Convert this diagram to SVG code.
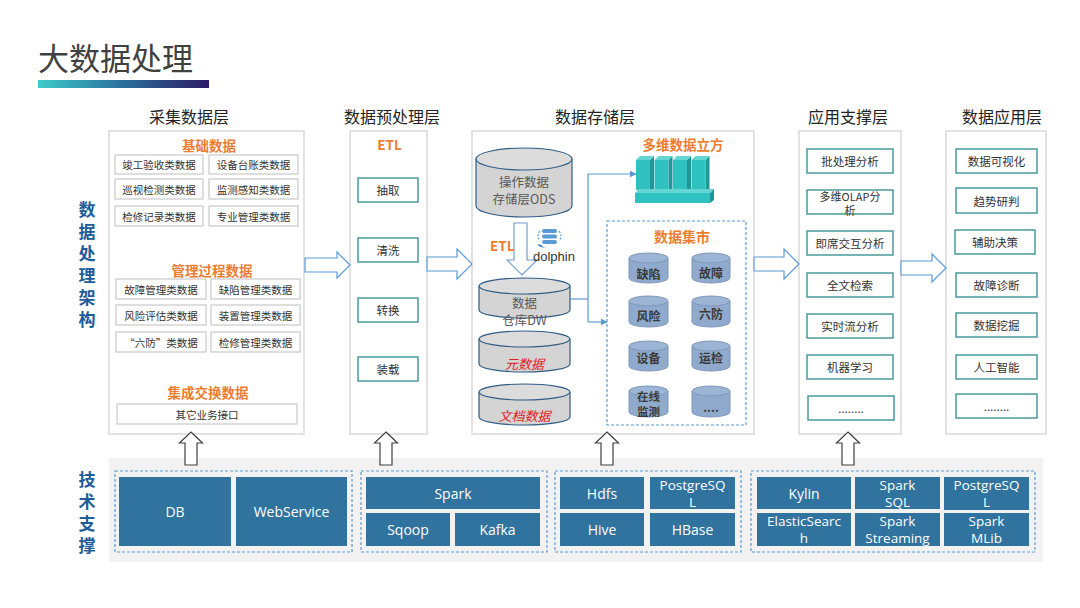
<svg xmlns="http://www.w3.org/2000/svg" width="1080" height="608" viewBox="0 0 1080 608">
<defs>
<linearGradient id="tg" x1="0" y1="0" x2="1" y2="0">
<stop offset="0" stop-color="#3ecbcb"/>
<stop offset="0.5" stop-color="#2a6f9a"/>
<stop offset="1" stop-color="#2d1a66"/>
</linearGradient>
<marker id="ah" viewBox="0 0 10 10" refX="9" refY="5" markerWidth="7" markerHeight="7" orient="auto" markerUnits="userSpaceOnUse">
<path d="M0,0 L10,5 L0,10 Z" fill="#5b9bd5"/>
</marker>
<style>
text{font-family:"Noto Sans CJK SC","Noto Sans",sans-serif;}
.c{text-anchor:middle;dominant-baseline:central;}
.hdr{font-size:16px;fill:#222;}
.side{font-size:17px;font-weight:bold;fill:#1f5c99;writing-mode:vertical-rl;text-orientation:upright;}
.org{font-size:13.5px;font-weight:bold;fill:#ed7d31;}
.panel{fill:#fff;stroke:#d9d9d9;stroke-width:1.5;}
.gb{fill:#fff;stroke:#c9c9c9;stroke-width:1.2;}
.gt{font-size:10.5px;fill:#333;}
.tb{fill:#fff;stroke:#4a9a9c;stroke-width:1.5;}
.tt{font-size:11.5px;fill:#333;}
.tt2{font-size:11px;fill:#333;}
.cyl{fill:#d4d4d4;stroke:#2f5d86;stroke-width:1.2;}
.cylt{fill:#dcdcdc;stroke:#2f5d86;stroke-width:1.2;}
.ct{font-size:12.5px;fill:#595959;}
.red{font-size:13px;fill:#e02020;font-style:italic;}
.mc{fill:#8faacc;stroke:#7d98bd;stroke-width:1;}
.mct{fill:#9db5d4;stroke:#7d98bd;stroke-width:1;}
.mt{font-size:12px;font-weight:bold;fill:#3a3a3a;}
.mt2{font-size:11.5px;font-weight:bold;fill:#3a3a3a;}
.rar{fill:#fff;stroke:#5b9bd5;stroke-width:1.2;}
.uar{fill:#fff;stroke:#404040;stroke-width:1.2;}
.con{fill:none;stroke:#5b9bd5;stroke-width:1.2;}
.dash{fill:none;stroke:#5b9bd5;stroke-width:1.2;stroke-dasharray:3,2;}
.tk{fill:#31739f;}
.tx{font-family:"Open Sans","Noto Sans","Noto Sans CJK SC",sans-serif;font-size:14px;fill:#fff;text-anchor:middle;dominant-baseline:central;}
.tx2{font-family:"Open Sans","Noto Sans","Noto Sans CJK SC",sans-serif;font-size:13.5px;fill:#fff;text-anchor:middle;dominant-baseline:central;}
.cf{fill:#2fc0c0;}
.cs{fill:#1e9799;}
.ctp{fill:#63d6d4;}
</style>
</defs>

<rect width="1080" height="608" fill="#fff"/>

<g id="title">
<text x="38" y="70" style="font-size:31px;fill:#404040;">大数据处理</text>
<rect x="38" y="80" width="171" height="8" fill="url(#tg)"/>
</g>

<g id="side-labels">
<text class="side" x="87" y="201.5" style="letter-spacing:5px;">数据处理架构</text>
<text class="side" x="87" y="471.5" style="letter-spacing:4.7px;">技术支撑</text>
</g>

<g id="headers">
<text class="hdr c" x="189" y="116">采集数据层</text>
<text class="hdr c" x="392" y="116">数据预处理层</text>
<text class="hdr c" x="595" y="116">数据存储层</text>
<text class="hdr c" x="848" y="116">应用支撑层</text>
<text class="hdr c" x="1002" y="116">数据应用层</text>
</g>

<g id="collect-layer">
<rect class="panel" x="109" y="131" width="195" height="303"/>
<text class="org c" x="209" y="145">基础数据</text>
<rect class="gb" x="115" y="155" width="88" height="19"/><text class="gt c" x="159" y="164.5">竣工验收类数据</text>
<rect class="gb" x="209" y="155" width="89" height="19"/><text class="gt c" x="253.5" y="164.5">设备台账类数据</text>
<rect class="gb" x="115" y="179" width="88" height="20"/><text class="gt c" x="159" y="189">巡视检测类数据</text>
<rect class="gb" x="209" y="179" width="89" height="20"/><text class="gt c" x="253.5" y="189">监测感知类数据</text>
<rect class="gb" x="115" y="206" width="88" height="20"/><text class="gt c" x="159" y="216">检修记录类数据</text>
<rect class="gb" x="209" y="206" width="89" height="20"/><text class="gt c" x="253.5" y="216">专业管理类数据</text>
<text class="org c" x="212" y="270">管理过程数据</text>
<rect class="gb" x="116" y="279" width="90" height="20"/><text class="gt c" x="161" y="289">故障管理类数据</text>
<rect class="gb" x="211" y="279" width="89" height="20"/><text class="gt c" x="255.5" y="289">缺陷管理类数据</text>
<rect class="gb" x="116" y="305" width="90" height="20"/><text class="gt c" x="161" y="315">风险评估类数据</text>
<rect class="gb" x="211" y="305" width="89" height="20"/><text class="gt c" x="255.5" y="315">装置管理类数据</text>
<rect class="gb" x="116" y="332" width="90" height="20"/><text class="gt c" x="161" y="342">“六防”类数据</text>
<rect class="gb" x="211" y="332" width="89" height="20"/><text class="gt c" x="255.5" y="342">检修管理类数据</text>
<text class="org c" x="208" y="392">集成交换数据</text>
<rect class="gb" x="117" y="404" width="180" height="20"/><text class="gt c" x="207" y="414">其它业务接口</text>
</g>

<g id="etl-layer">
<rect class="panel" x="350" y="131" width="77" height="303"/>
<text class="org c" x="389.5" y="144">ETL</text>
<rect class="tb" x="358" y="178" width="60" height="24"/><text class="tt c" x="388" y="190">抽取</text>
<rect class="tb" x="358" y="238" width="60" height="24"/><text class="tt c" x="388" y="250">清洗</text>
<rect class="tb" x="358" y="298" width="60" height="24"/><text class="tt c" x="388" y="310">转换</text>
<rect class="tb" x="358" y="357" width="60" height="24"/><text class="tt c" x="388" y="369">装载</text>
</g>

<g id="storage-layer">
<rect class="panel" x="472" y="131" width="282" height="303"/>
</g>

<g id="ods">
<path class="cyl" d="M476,159 L476,206 A48,11 0 0 0 572,206 L572,159"/>
<ellipse class="cylt" cx="524" cy="159" rx="48" ry="11"/>
<text class="ct c" x="524" y="181.5">操作数据</text>
<text class="ct c" x="524" y="198.5">存储层ODS</text>
</g>

<g id="etl-arrow">
<path d="M514,223 L527,223 L527,260 L537,260 L522,275 L507,260 L514,260 Z" fill="#fff" stroke="#6f9fcf" stroke-width="1.2"/>
<text class="org" x="490" y="251">ETL</text>
</g>

<g id="dolphin">
<rect x="542" y="229" width="15" height="4" rx="2" fill="#5b9bd5"/>
<rect x="542" y="234.5" width="15" height="4" rx="2" fill="#5b9bd5"/>
<rect x="542" y="240" width="15" height="4" rx="2" fill="#5b9bd5"/>
<path d="M540,231 Q536,236 540,241" fill="none" stroke="#5b9bd5" stroke-width="1.2" stroke-dasharray="2,1.5"/>
<path d="M559,231 Q563,236 559,241" fill="none" stroke="#5b9bd5" stroke-width="1.2" stroke-dasharray="2,1.5"/>
<path d="M537,244 Q542,250 549,246 Q544,249 541,245 Z" fill="#2e75b6"/>
<text x="533" y="261" style="font-family:'Liberation Sans',sans-serif;font-size:13px;fill:#333;">dolphin</text>
</g>

<g id="dw">
<path class="cyl" d="M479,286 L479,310 A45.5,8 0 0 0 570,310 L570,286"/>
<ellipse class="cylt" cx="524.5" cy="286" rx="45.5" ry="8"/>
<text class="ct c" x="524.5" y="302">数据</text>
<text class="ct c" x="524.5" y="319">仓库DW</text>
</g>

<g id="meta">
<path class="cyl" d="M479,339 L479,364 A45.5,8 0 0 0 570,364 L570,339"/>
<ellipse class="cylt" cx="524.5" cy="339" rx="45.5" ry="8"/>
<text class="red c" x="524.5" y="363">元数据</text>
</g>

<g id="doc">
<path class="cyl" d="M479,392 L479,417 A45.5,8 0 0 0 570,417 L570,392"/>
<ellipse class="cylt" cx="524.5" cy="392" rx="45.5" ry="8"/>
<text class="red c" x="524.5" y="415">文档数据</text>
</g>

<g id="cube">
<text class="org c" x="683" y="144">多维数据立方</text>
<g>
<polygon class="cs" points="650,160 654,156 654,189 650,190"/>
<polygon class="ctp" points="636,160 640,156 654,156 650,160"/>
<rect class="cf" x="636" y="160" width="14" height="30"/>
<polygon class="cs" points="668.5,160 672.5,156 672.5,189 668.5,190"/>
<polygon class="ctp" points="654.5,160 658.5,156 672.5,156 668.5,160"/>
<rect class="cf" x="654.5" y="160" width="14" height="30"/>
<polygon class="cs" points="687,160 691,156 691,189 687,190"/>
<polygon class="ctp" points="673,160 677,156 691,156 687,160"/>
<rect class="cf" x="673" y="160" width="14" height="30"/>
<polygon class="cs" points="705.5,160 709.5,156 709.5,189 705.5,190"/>
<polygon class="ctp" points="691.5,160 695.5,156 709.5,156 705.5,160"/>
<rect class="cf" x="691.5" y="160" width="14" height="30"/>
<polygon class="ctp" points="635,193 639,189 714,189 710,193"/>
<rect class="cf" x="635" y="193" width="75" height="10"/>
<polygon class="cs" points="710,193 714,189 714,200 710,203"/>
</g>
</g>

<g id="mart">
<rect class="dash" x="607" y="221" width="139" height="204"/>
<text class="org c" x="682" y="236" style="font-size:14px;">数据集市</text>
<g>
<path class="mc" d="M629,258 L629,278 A19.5,5 0 0 0 668,278 L668,258"/><ellipse class="mct" cx="648.5" cy="258" rx="19.5" ry="5"/><text class="mt c" x="648.5" y="273">缺陷</text>
<path class="mc" d="M692,258 L692,278 A19,5 0 0 0 730,278 L730,258"/><ellipse class="mct" cx="711" cy="258" rx="19" ry="5"/><text class="mt c" x="711" y="272">故障</text>
<path class="mc" d="M629,301 L629,322 A19.5,5 0 0 0 668,322 L668,301"/><ellipse class="mct" cx="648.5" cy="301" rx="19.5" ry="5"/><text class="mt c" x="648.5" y="315">风险</text>
<path class="mc" d="M692,301 L692,322 A19,5 0 0 0 730,322 L730,301"/><ellipse class="mct" cx="711" cy="301" rx="19" ry="5"/><text class="mt c" x="711" y="313">六防</text>
<path class="mc" d="M629,346 L629,366 A19.5,5 0 0 0 668,366 L668,346"/><ellipse class="mct" cx="648.5" cy="346" rx="19.5" ry="5"/><text class="mt c" x="648.5" y="357">设备</text>
<path class="mc" d="M692,346 L692,366 A19,5 0 0 0 730,366 L730,346"/><ellipse class="mct" cx="711" cy="346" rx="19" ry="5"/><text class="mt c" x="711" y="357">运检</text>
<path class="mc" d="M629,391 L629,412 A19.5,5 0 0 0 668,412 L668,391"/><ellipse class="mct" cx="648.5" cy="391" rx="19.5" ry="5"/><text class="mt2 c" x="648.5" y="395.5">在线</text><text class="mt2 c" x="648.5" y="411">监测</text>
<path class="mc" d="M692,391 L692,412 A19,5 0 0 0 730,412 L730,391"/><ellipse class="mct" cx="711" cy="391" rx="19" ry="5"/><text class="mt c" x="711" y="406">....</text>
</g>
</g>

<g id="support-layer">
<rect class="panel" x="799" y="131" width="102" height="303"/>
<rect class="tb" x="807" y="149" width="86" height="24"/><text class="tt c" x="850" y="161">批处理分析</text>
<rect class="tb" x="807" y="190" width="86" height="24"/><text class="tt2 c" x="850" y="195.5">多维OLAP分</text><text class="tt2 c" x="850" y="210">析</text>
<rect class="tb" x="807" y="231" width="86" height="24"/><text class="tt c" x="850" y="243">即席交互分析</text>
<rect class="tb" x="807" y="273" width="86" height="24"/><text class="tt c" x="850" y="285">全文检索</text>
<rect class="tb" x="807" y="314" width="86" height="24"/><text class="tt c" x="850" y="326">实时流分析</text>
<rect class="tb" x="807" y="355" width="86" height="24"/><text class="tt c" x="850" y="367">机器学习</text>
<rect class="tb" x="808" y="396" width="86" height="24"/><text class="tt c" x="851" y="408">........</text>
</g>

<g id="app-layer">
<rect class="panel" x="946" y="131" width="100" height="303"/>
<rect class="tb" x="956" y="149" width="81" height="24"/><text class="tt c" x="996.5" y="161">数据可视化</text>
<rect class="tb" x="956" y="188" width="81" height="25"/><text class="tt c" x="996.5" y="200.5">趋势研判</text>
<rect class="tb" x="955" y="230" width="80" height="24"/><text class="tt c" x="995" y="242">辅助决策</text>
<rect class="tb" x="956" y="273" width="81" height="24"/><text class="tt c" x="996.5" y="285">故障诊断</text>
<rect class="tb" x="956" y="313" width="81" height="24"/><text class="tt c" x="996.5" y="325">数据挖掘</text>
<rect class="tb" x="956" y="355" width="81" height="24"/><text class="tt c" x="996.5" y="367">人工智能</text>
<rect class="tb" x="956" y="394" width="81" height="24"/><text class="tt c" x="996.5" y="406">........</text>
</g>

<g id="tech">
<rect x="109" y="458" width="934" height="104" fill="#f2f2f2"/>
<rect class="dash" x="115" y="471" width="237" height="81"/>
<rect class="dash" x="361" y="471" width="186" height="81"/>
<rect class="dash" x="555" y="471" width="186" height="81"/>
<rect class="dash" x="751" y="471" width="284" height="81"/>
<g id="t-db"><rect class="tk" x="119" y="477" width="112" height="69"/><text class="tx" x="175" y="511.5">DB</text></g>
<g id="t-ws"><rect class="tk" x="236" y="477" width="111" height="69"/><text class="tx" x="291.5" y="511.5">WebService</text></g>
<g id="t-spark"><rect class="tk" x="366" y="477" width="174" height="32"/><text class="tx" x="453" y="493">Spark</text></g>
<g id="t-sqoop"><rect class="tk" x="366" y="513" width="84" height="33"/><text class="tx" x="408" y="529.5">Sqoop</text></g>
<g id="t-kafka"><rect class="tk" x="455" y="513" width="85" height="33"/><text class="tx" x="497.5" y="529.5">Kafka</text></g>
<g id="t-hdfs"><rect class="tk" x="560" y="477" width="84" height="32"/><text class="tx" x="602" y="493">Hdfs</text></g>
<g id="t-pg1"><rect class="tk" x="650" y="477" width="85" height="32"/><text class="tx2" x="692.5" y="484.5">PostgreSQ</text><text class="tx2" x="692.5" y="501.5">L</text></g>
<g id="t-hive"><rect class="tk" x="560" y="513" width="84" height="33"/><text class="tx" x="602" y="529.5">Hive</text></g>
<g id="t-hbase"><rect class="tk" x="650" y="513" width="85" height="33"/><text class="tx" x="692.5" y="529.5">HBase</text></g>
<g id="t-kylin"><rect class="tk" x="757" y="477" width="94" height="32"/><text class="tx" x="804" y="493">Kylin</text></g>
<g id="t-sql"><rect class="tk" x="855" y="477" width="85" height="32"/><text class="tx2" x="897.5" y="484.5">Spark</text><text class="tx2" x="897.5" y="501.5">SQL</text></g>
<g id="t-pg2"><rect class="tk" x="944" y="477" width="85" height="33"/><text class="tx2" x="986.5" y="484.5">PostgreSQ</text><text class="tx2" x="986.5" y="501.5">L</text></g>
<g id="t-es"><rect class="tk" x="757" y="513" width="94" height="33"/><text class="tx2" x="804" y="520.5">ElasticSearc</text><text class="tx2" x="804" y="537.5">h</text></g>
<g id="t-stream"><rect class="tk" x="855" y="513" width="85" height="33"/><text class="tx2" x="897.5" y="520.5">Spark</text><text class="tx2" x="897.5" y="537.5">Streaming</text></g>
<g id="t-mlib"><rect class="tk" x="944" y="513" width="85" height="33"/><text class="tx2" x="986.5" y="520.5">Spark</text><text class="tx2" x="986.5" y="537.5">MLib</text></g>
</g>

<g id="connectors">
<path class="rar" d="M305,258 L337,258 L337,252 L350,265 L337,278 L337,272 L305,272 Z"/>
<path class="rar" d="M427,257 L457,257 L457,249 L472,264 L457,279 L457,271 L427,271 Z"/>
<path class="rar" d="M754,257 L784,257 L784,249 L799,264 L784,279 L784,271 L754,271 Z"/>
<path class="rar" d="M901,261 L932,261 L932,254 L946,268 L932,282 L932,275 L901,275 Z"/>
<path class="uar" d="M191,432 L202.5,443 L197,443 L197,465 L185,465 L185,443 L179.5,443 Z"/>
<path class="uar" d="M386,432 L397.5,443 L392,443 L392,465 L380,465 L380,443 L374.5,443 Z"/>
<path class="uar" d="M607,432 L618.5,443 L613,443 L613,465 L601,465 L601,443 L595.5,443 Z"/>
<path class="uar" d="M848,432 L859.5,443 L854,443 L854,465 L842,465 L842,443 L836.5,443 Z"/>
<path class="con" d="M570,299 L588,299"/>
<path class="con" d="M588,322 L588,174 L636,174" marker-end="url(#ah)"/>
<path class="con" d="M588,322 L607,322" marker-end="url(#ah)"/>
</g>
</svg>
